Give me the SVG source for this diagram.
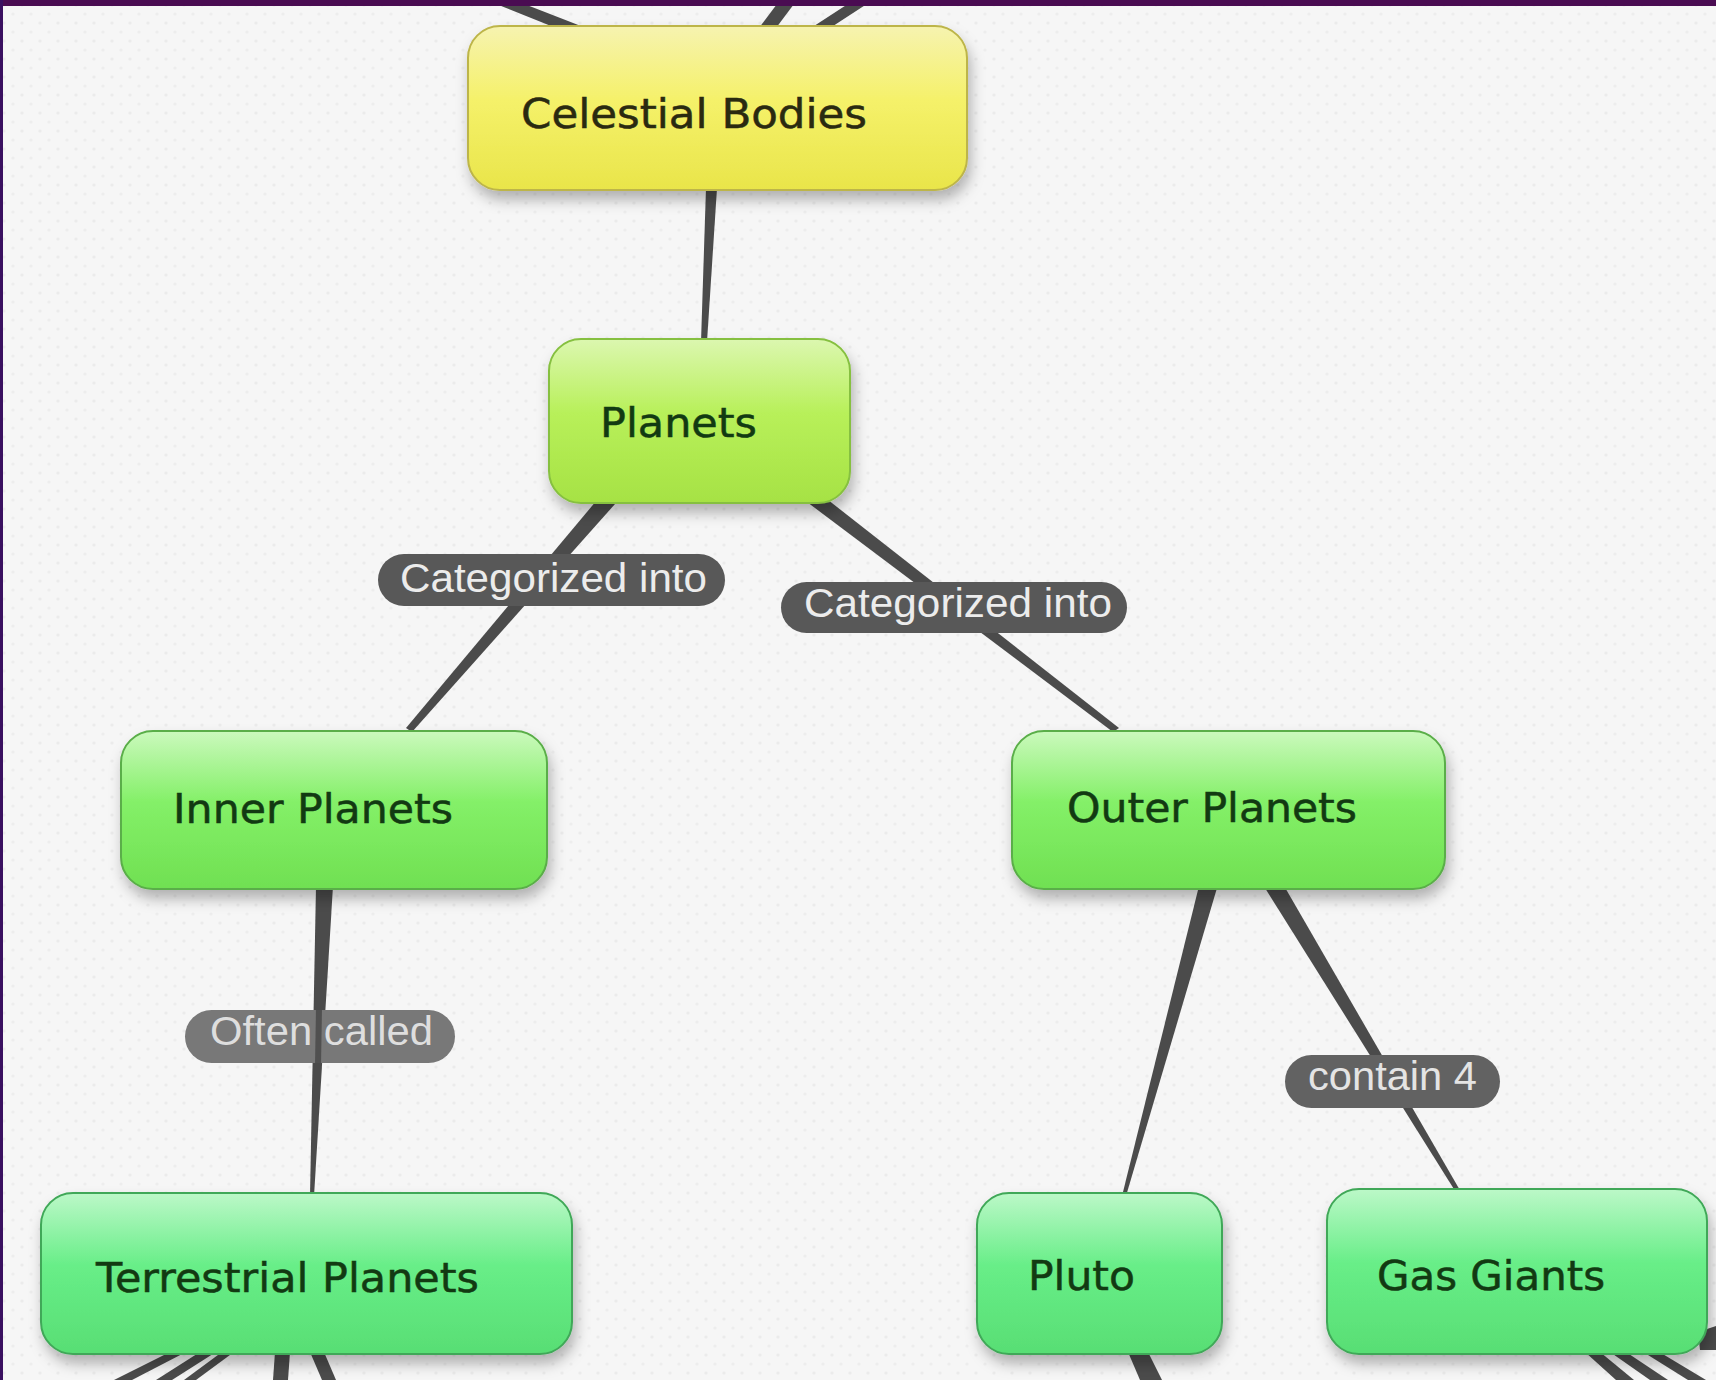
<svg xmlns="http://www.w3.org/2000/svg" width="1716" height="1380" viewBox="0 0 1716 1380">
<defs>
<style>
.node-text{font-family:"DejaVu Sans","Verdana",sans-serif;font-size:40px;fill:#123a12;stroke:#123a12;stroke-width:0.5;}
.lbl-text{font-family:"Liberation Sans","Arial",sans-serif;font-size:41px;fill:#ececec;}
.conn{fill:#4b4b4b;}
.pill{fill:#585858;}
.node{stroke-width:2;filter:url(#shadow);}
</style>
<pattern id="bgdots" width="18" height="18" patternUnits="userSpaceOnUse">
<rect width="18" height="18" fill="#f6f6f6"/>
<circle cx="4" cy="5" r="1.6" fill="#ebebeb"/>
<circle cx="13" cy="14" r="1.6" fill="#ededed"/>
</pattern>
<filter id="shadow" x="-10%" y="-10%" width="125%" height="140%">
<feDropShadow dx="3" dy="9" stdDeviation="7" flood-color="#000" flood-opacity="0.28"/>
</filter>
<linearGradient id="gYellow" x1="0" y1="0" x2="0" y2="1">
<stop offset="0" stop-color="#f6f3b0"/>
<stop offset="0.45" stop-color="#f5f16a"/>
<stop offset="1" stop-color="#e9e54a"/>
</linearGradient>
<linearGradient id="gLime" x1="0" y1="0" x2="0" y2="1">
<stop offset="0" stop-color="#dcf7b0"/>
<stop offset="0.45" stop-color="#b8f05a"/>
<stop offset="1" stop-color="#a6e244"/>
</linearGradient>
<linearGradient id="gGreen" x1="0" y1="0" x2="0" y2="1">
<stop offset="0" stop-color="#cbf9bd"/>
<stop offset="0.45" stop-color="#84f068"/>
<stop offset="1" stop-color="#70e052"/>
</linearGradient>
<linearGradient id="gMint" x1="0" y1="0" x2="0" y2="1">
<stop offset="0" stop-color="#bcf8c8"/>
<stop offset="0.45" stop-color="#68ee88"/>
<stop offset="1" stop-color="#58de74"/>
</linearGradient>
</defs>

<rect width="1716" height="1380" fill="url(#bgdots)"/>

<g id="connectors">
<!-- off-canvas links -->
<polygon class="conn" points="486,0 514,0 586,28 556,28"/>
<polygon class="conn" points="780,0 797,0 776,28 759,28"/>
<polygon class="conn" points="854,0 873,0 830,28 811,28"/>
<polygon class="conn" points="170,1352 186,1352 132,1380 114,1380"/>
<polygon class="conn" points="200,1352 216,1352 172,1380 156,1380"/>
<polygon class="conn" points="222,1352 234,1352 196,1380 184,1380"/>
<polygon class="conn" points="275,1352 290,1352 288,1380 273,1380"/>
<polygon class="conn" points="310,1352 324,1352 336,1380 322,1380"/>
<polygon class="conn" points="1128,1352 1148,1352 1162,1380 1140,1380"/>
<polygon class="conn" points="1585,1352 1600,1352 1634,1380 1616,1380"/>
<polygon class="conn" points="1610,1352 1626,1352 1668,1380 1650,1380"/>
<polygon class="conn" points="1640,1350 1656,1350 1706,1380 1688,1380"/>
<polygon class="conn" points="1698,1332 1716,1326 1716,1350 1700,1350"/>
<!-- Celestial Bodies -> Planets -->
<polygon class="conn" points="706,188 717,188 707,342 701,342"/>
<!-- Planets -> Inner Planets -->
<polygon class="conn" points="597,500 615,504 412,732 406,728"/>
<!-- Planets -> Outer Planets -->
<polygon class="conn" points="807,502 823,496 1119,728 1113,732"/>
<!-- Inner Planets -> Terrestrial Planets -->
<polygon class="conn" points="316,886 333,886 314,1196 310,1196"/>
<!-- Outer Planets -> Pluto -->
<polygon class="conn" points="1199,886 1217,888 1126,1196 1122,1196"/>
<!-- Outer Planets -> Gas Giants -->
<polygon class="conn" points="1265,888 1283,884 1461,1192 1457,1194"/>
</g>

<g id="label-categorized-1">
<rect class="pill" x="378" y="554" width="347" height="52" rx="26"/>
<text class="lbl-text" x="400" y="592" textLength="307" lengthAdjust="spacingAndGlyphs">Categorized into</text>
</g>
<g id="label-categorized-2">
<rect class="pill" x="781" y="582" width="346" height="51" rx="25.5"/>
<text class="lbl-text" x="804" y="617" textLength="308" lengthAdjust="spacingAndGlyphs">Categorized into</text>
</g>
<g id="label-often-called">
<rect x="185" y="1010" width="270" height="53" rx="26.5" fill="#787878"/>
<text class="lbl-text" x="210" y="1045" textLength="223" lengthAdjust="spacingAndGlyphs" style="fill:#dedede">Often called</text>
<polygon class="conn" points="316,1008 322,1008 321,1065 315,1065" opacity="0.9"/>
</g>
<g id="label-contain-4">
<rect x="1285" y="1055" width="215" height="53" rx="26.5" fill="#626262"/>
<text class="lbl-text" x="1308" y="1090" textLength="169" lengthAdjust="spacingAndGlyphs" style="fill:#e4e4e4">contain 4</text>
</g>

<g id="node-celestial-bodies">
<rect class="node" x="468" y="26" width="499" height="164" rx="32" fill="url(#gYellow)" stroke="#bdb54a"/>
<text class="node-text" x="521" y="128" textLength="346" lengthAdjust="spacingAndGlyphs" style="fill:#2a2a10;stroke:#2a2a10">Celestial Bodies</text>
</g>
<g id="node-planets">
<rect class="node" x="549" y="339" width="301" height="164" rx="32" fill="url(#gLime)" stroke="#86c040"/>
<text class="node-text" x="600" y="437" textLength="157" lengthAdjust="spacingAndGlyphs">Planets</text>
</g>
<g id="node-inner-planets">
<rect class="node" x="121" y="731" width="426" height="158" rx="32" fill="url(#gGreen)" stroke="#5aae48"/>
<text class="node-text" x="173" y="823" textLength="280" lengthAdjust="spacingAndGlyphs">Inner Planets</text>
</g>
<g id="node-outer-planets">
<rect class="node" x="1012" y="731" width="433" height="158" rx="32" fill="url(#gGreen)" stroke="#5aae48"/>
<text class="node-text" x="1067" y="822" textLength="290" lengthAdjust="spacingAndGlyphs">Outer Planets</text>
</g>
<g id="node-terrestrial-planets">
<rect class="node" x="41" y="1193" width="531" height="161" rx="32" fill="url(#gMint)" stroke="#40a858"/>
<text class="node-text" x="96" y="1292" textLength="383" lengthAdjust="spacingAndGlyphs">Terrestrial Planets</text>
</g>
<g id="node-pluto">
<rect class="node" x="977" y="1193" width="245" height="161" rx="32" fill="url(#gMint)" stroke="#40a858"/>
<text class="node-text" x="1028" y="1290" textLength="107" lengthAdjust="spacingAndGlyphs">Pluto</text>
</g>
<g id="node-gas-giants">
<rect class="node" x="1327" y="1189" width="380" height="165" rx="32" fill="url(#gMint)" stroke="#40a858"/>
<text class="node-text" x="1377" y="1290" textLength="228" lengthAdjust="spacingAndGlyphs">Gas Giants</text>
</g>

<rect x="0" y="0" width="1716" height="6" fill="#4a0c52"/>
<rect x="0" y="0" width="3" height="1380" fill="#3a1060"/>
</svg>
